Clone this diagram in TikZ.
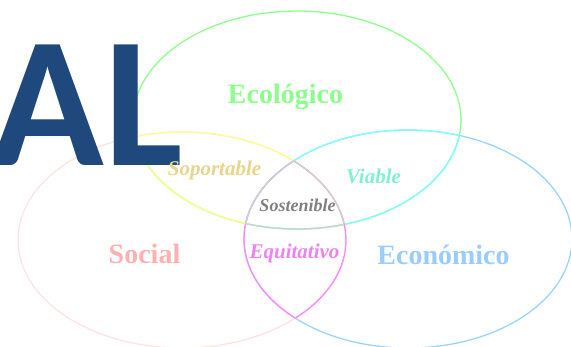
\documentclass[tikz,border=0pt]{standalone}
\usepackage{fontspec}
\setmainfont{Liberation Serif}
\newfontfamily\alfont{Carlito}
\usepackage{tikz}
\usetikzlibrary{positioning}

\definecolor{ecogreen}{HTML}{8CFF8C}
\definecolor{socpink}{HTML}{FFE2E2}
\definecolor{soctext}{HTML}{FFB0B0}
\definecolor{econblue}{HTML}{99D4FF}
\definecolor{econtext}{HTML}{99CCFF}
\definecolor{soplight}{HTML}{FFFF88}
\definecolor{soptext}{HTML}{E8D48A}
\definecolor{viacyan}{HTML}{80FFFF}
\definecolor{viatext}{HTML}{80F0D4}
\definecolor{equmag}{HTML}{FF88FF}
\definecolor{equtext}{HTML}{EE82EE}
\definecolor{sosgray}{HTML}{D0D0D0}
\definecolor{sostext}{HTML}{808080}
\definecolor{aldark}{HTML}{1F497D}

\begin{document}
\begin{tikzpicture}[x=1pt, y=-1pt,
    ring/.style={line width=1.3pt},
    big/.style={font=\fontsize{28}{28}\selectfont\bfseries, anchor=base, inner sep=0pt},
    small/.style={font=\fontsize{21}{21}\selectfont\bfseries\itshape, anchor=base, inner sep=0pt}]
                \useasboundingbox (0,0) rectangle (571,346);
                \def\ecoring{(297,120) ellipse [x radius=164pt, y radius=109pt]}
                \def\socring{(182,240) ellipse [x radius=164pt, y radius=108pt]}
                \def\econring{(408,239) ellipse [x radius=164pt, y radius=109pt]}

                % outer rings
                \draw[ring, ecogreen] \ecoring;
                \draw[ring, socpink] \socring;
                \draw[ring, econblue] \econring;

                % two-way overlaps
                \begin{scope}
                    \clip \ecoring;
                    \draw[ring, soplight] \socring;
                    \draw[ring, viacyan] \econring;
                \end{scope}
                \begin{scope}
                    \clip \socring;
                    \draw[ring, soplight] \ecoring;
                    \draw[ring, equmag] \econring;
                \end{scope}
                \begin{scope}
                    \clip \econring;
                    \draw[ring, viacyan] \ecoring;
                    \draw[ring, equmag] \socring;
                \end{scope}

                % centre
                \begin{scope}
                    \clip \ecoring;
                    \clip \socring;
                    \draw[ring, sosgray] \econring;
                \end{scope}
                \begin{scope}
                    \clip \ecoring;
                    \clip \econring;
                    \draw[ring, sosgray] \socring;
                \end{scope}
                \begin{scope}
                    \clip \socring;
                    \clip \econring;
                    \draw[ring, sosgray] \ecoring;
                \end{scope}

                \node[anchor=base east, inner sep=0pt, text=aldark,
                      font=\alfont\fontsize{186}{186}\selectfont\bfseries] (al) at (183,165) {AL};

                \node[big, text=ecogreen] (eco) at (285.5,103) {Ecológico};
                \node[big, text=soctext] (soc) at (144.5,263) {Social};
                \node[big, text=econtext] (econ) at (443.5,264) {Económico};
                \node[small, text=soptext] (sop) at (214.5,175) {Soportable};
                \node[small, text=viatext] (via) at (373.5,183) {Viable};
                \node[small, text=equtext] (equ) at (294.5,258) {Equitativo};
                \node[small, text=sostext, font=\fontsize{18}{18}\selectfont\bfseries\itshape] (sos) at (297.5,211) {Sostenible};
            \end{tikzpicture}
\end{document}
